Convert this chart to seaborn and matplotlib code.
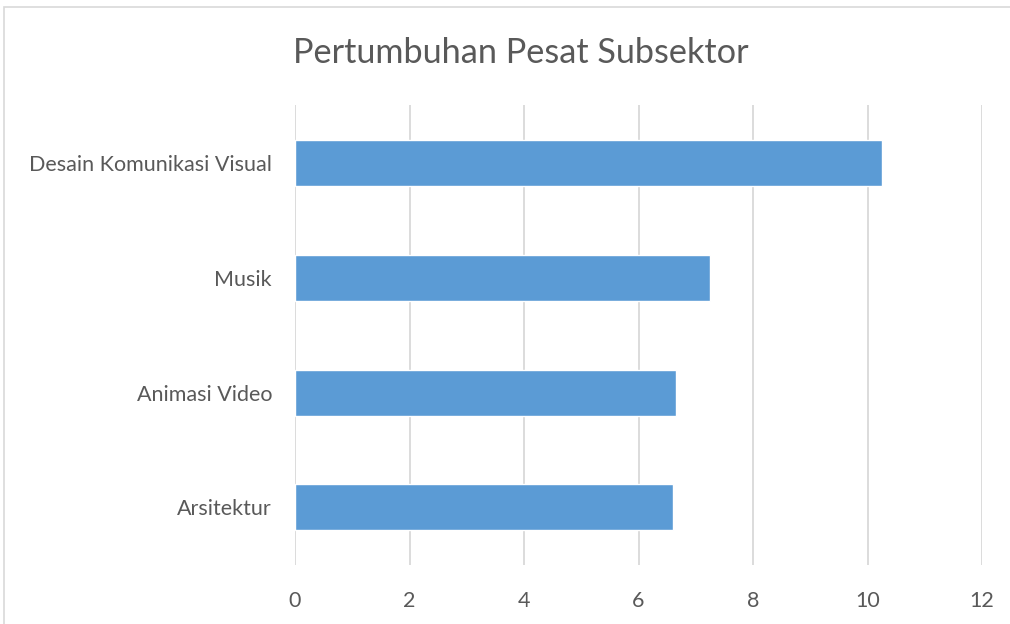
import matplotlib
matplotlib.use("Agg")
import matplotlib.pyplot as plt
import pandas as pd
import seaborn as sns
from matplotlib.patches import Rectangle

# Data
subsektor = ["Desain Komunikasi Visual", "Musik", "Animasi Video", "Arsitektur"]
pertumbuhan = [10.25, 7.25, 6.66, 6.61]
x_ticks = [0, 2, 4, 6, 8, 10, 12]

df = pd.DataFrame({"Subsektor": subsektor, "Pertumbuhan": pertumbuhan})

sns.set_theme(style="white")
plt.rcParams["font.family"] = ["Lato", "DejaVu Sans"]

text_color = "#595959"
grid_color = "#D9D9D9"

fig = plt.figure(figsize=(10.1, 6.24), dpi=100)
ax = fig.add_axes([0.2921, 0.0946, 0.6802, 0.737])

sns.barplot(data=df, x="Pertumbuhan", y="Subsektor", orient="h",
            color="#5B9BD5", saturation=1, width=0.4, ax=ax, zorder=3)

ax.set_xlim(0, 12)
ax.set_xticks(x_ticks)
ax.set_xticklabels([str(t) for t in x_ticks])
ax.xaxis.grid(True, color=grid_color, linewidth=1.3, zorder=0)
ax.set_axisbelow(True)
for s in ax.spines.values():
    s.set_visible(False)
ax.tick_params(axis="both", length=0, labelsize=15.5, colors=text_color)
ax.tick_params(axis="x", pad=19)
ax.tick_params(axis="y", pad=16.5)
ax.set_xlabel("")
ax.set_ylabel("")

fig.text(0.5155, 0.915, "Pertumbuhan Pesat Subsektor", ha="center", va="center",
         fontsize=24.7, color=text_color)

# light frame around chart area
fig.patches.append(Rectangle((4 / 1010, -0.01), 1.1, 1 - 7 / 624 + 0.01,
                             transform=fig.transFigure, fill=False,
                             edgecolor=grid_color, linewidth=1.2))

fig.savefig("out.png", dpi=100)
